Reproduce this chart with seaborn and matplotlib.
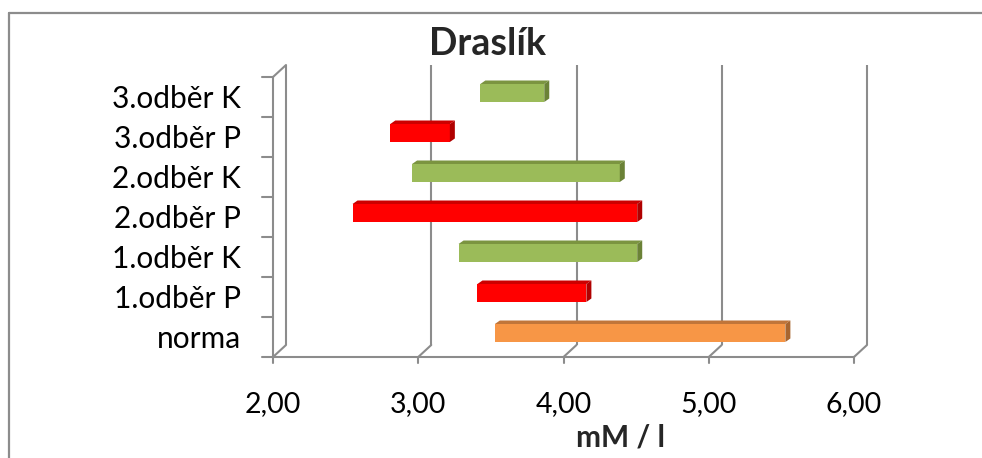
import matplotlib
matplotlib.use("Agg")
import matplotlib.pyplot as plt
import seaborn as sns
from matplotlib.patches import Polygon
from matplotlib.lines import Line2D

categories = ["norma", "1.odběr P", "1.odběr K", "2.odběr P", "2.odběr K", "3.odběr P", "3.odběr K"]
starts = [3.50, 3.38, 3.25, 2.52, 2.93, 2.78, 3.40]
ends = [5.50, 4.13, 4.48, 4.48, 4.36, 3.19, 3.84]
kinds = ["norma", "P", "K", "P", "K", "P", "K"]
xticks = [2.0, 3.0, 4.0, 5.0, 6.0]
xtick_labels = ["2,00", "3,00", "4,00", "5,00", "6,00"]
title = "Draslík"
xlabel = "mM / l"

front_col = {"norma": "#F79646", "P": "#FF0000", "K": "#9BBB59"}
top_col = {"norma": "#C0753A", "P": "#CC0000", "K": "#7B9440"}
side_col = {"norma": "#A8652F", "P": "#B00000", "K": "#6B8237"}

sns.set_theme(style="white")
plt.rcParams["font.family"] = ["Lato", "DejaVu Sans"]

W, H = 982, 458
fig = plt.figure(figsize=(W / 100, H / 100), dpi=100)
fig.patch.set_facecolor("white")
left_px, right_px, top_px, bot_px = 273, 854, 77, 357
ax = fig.add_axes([left_px / W, (H - bot_px) / H, (right_px - left_px) / W, (bot_px - top_px) / H])
ax.set_xlim(2, 6)
ax.set_ylim(-0.5, len(categories) - 0.5)
for s in ax.spines.values():
    s.set_visible(False)
ax.set_facecolor("none")

pxx = (right_px - left_px) / 4.0   # px per x unit
pxy = (bot_px - top_px) / len(categories)  # px per category
bx, by = 13 / pxx, 12 / pxy  # back wall offset
grid_c = "#8C8C8C"
lw = 1.5
y0, y1 = -0.5, len(categories) - 0.5

# back wall verticals and floor diagonals
for v in xticks:
    ax.plot([v + bx, v + bx], [y0 + by, y1 + by], color=grid_c, lw=lw, zorder=1, clip_on=False, solid_capstyle="butt")
    ax.plot([v, v + bx], [y0, y0 + by], color=grid_c, lw=lw, zorder=1, clip_on=False)
    ax.plot([v, v], [y0, y0 - 6 / pxy], color=grid_c, lw=lw, zorder=1, clip_on=False)
# front bottom edge
ax.plot([2, 6], [y0, y0], color=grid_c, lw=lw, zorder=1, clip_on=False)
# left wall
ax.plot([2, 2], [y0, y1], color=grid_c, lw=lw, zorder=1, clip_on=False)
ax.plot([2, 2 + bx], [y1, y1 + by], color=grid_c, lw=lw, zorder=1, clip_on=False)
for i in range(len(categories) + 1):
    yy = y0 + i
    ax.plot([2 - 11 / pxx, 2], [yy, yy], color=grid_c, lw=lw, zorder=1, clip_on=False)

# bars
fx, fy = 4 / pxx, 4 / pxy
dx, dy = 5 / pxx, 3.5 / pxy
hgt = 18 / pxy
ys = list(range(len(categories)))
ax.barh([y + fy for y in ys], [e - s for s, e in zip(starts, ends)],
        left=[s + fx for s in starts], height=hgt,
        color=[front_col[k] for k in kinds], edgecolor="none", zorder=3)
for y, s, e, k in zip(ys, starts, ends, kinds):
    l, r = s + fx, e + fx
    b, t = y + fy - hgt / 2, y + fy + hgt / 2
    ax.add_patch(Polygon([(l, t), (l + dx, t + dy), (r + dx, t + dy), (r, t)],
                         closed=True, facecolor=top_col[k], edgecolor="none", zorder=3))
    ax.add_patch(Polygon([(r, b), (r + dx, b + dy), (r + dx, t + dy), (r, t)],
                         closed=True, facecolor=side_col[k], edgecolor="none", zorder=3))

ax.set_xticks(xticks)
ax.set_xticklabels(xtick_labels, fontsize=20.5, color="black")
ax.set_yticks(ys)
ax.set_yticklabels(categories, fontsize=21.5, color="black")
ax.tick_params(axis="x", length=0, pad=24.5)
ax.tick_params(axis="y", length=0, pad=23)

fig.text(487 / W, (H - 55) / H, title, ha="center", va="baseline", fontsize=27, fontweight="bold")
fig.text(621 / W, (H - 446) / H, xlabel, ha="center", va="baseline", fontsize=21.5, fontweight="bold")

# outer border (top & left)
fig.add_artist(Line2D([9 / W, 1], [1 - 13 / H, 1 - 13 / H], color="#8C8C8C", lw=1.6, transform=fig.transFigure))
fig.add_artist(Line2D([9 / W, 9 / W], [0, 1 - 13 / H], color="#8C8C8C", lw=1.6, transform=fig.transFigure))

fig.savefig("out.png", dpi=100, facecolor="white")
